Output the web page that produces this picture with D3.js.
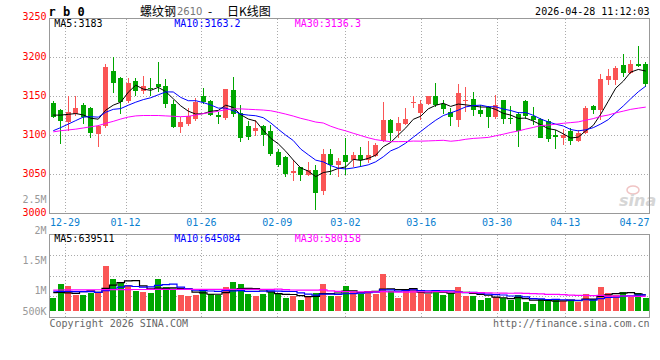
<!DOCTYPE html>
<html>
<head>
<meta charset="utf-8">
<script src="https://cdn.jsdelivr.net/npm/d3@7"></script>
<style>
  html, body { margin: 0; padding: 0; background: #fff; }
  svg { display: block; }
  .mono { font-family: "DejaVu Sans Mono", monospace; font-size: 10px; }
</style>
</head>
<body>
<div id="chart"></div>
<script>
// trading days shown (MM-DD)
const dates = [
  "12-25","12-26","12-29","12-30","12-31","01-05","01-06","01-07","01-08","01-09",
  "01-12","01-13","01-14","01-15","01-16","01-19","01-20","01-21","01-22","01-23",
  "01-26","01-27","01-28","01-29","01-30","02-02","02-03","02-04","02-05","02-06",
  "02-09","02-10","02-11","02-12","02-13","02-24","02-25","02-26","02-27","03-02",
  "03-03","03-04","03-05","03-06","03-09","03-10","03-11","03-12","03-13","03-16",
  "03-17","03-18","03-19","03-20","03-23","03-24","03-25","03-26","03-27","03-30",
  "03-31","04-01","04-02","04-03","04-07","04-08","04-09","04-10","04-13","04-14",
  "04-15","04-16","04-17","04-20","04-21","04-22","04-23","04-24","04-27","04-28"
];

const open = [
  3142,3132,3117.5,3128,3139,3135,3102,3112,3182,3174,
  3144,3170,3157,3161,3166,3163,3140,3111,3115,3120.5,
  3150,3144,3126,3122,3158,3129,3112,3105,3112,3106,
  3079,3072,3052,3059,3049,3056,3028,3076,3062,3075,
  3068,3075,3068,3073.5,3093,3120,3106,3115,3142,3129,
  3140,3150,3140,3130,3120,3144,3147,3132,3136,3123,
  3145,3122,3128,3144,3125,3120.5,3119,3101,3096,3105,
  3093,3103,3138,3132.5,3171,3171,3190,3179.5,3191.5,3191.5
];
const high = [
  3144,3134,3151,3151,3142,3137,3113,3192,3201,3175,
  3173,3174,3176,3173,3194,3172,3145,3123,3135,3148,
  3161,3145,3130,3160,3175,3139,3119,3120,3113,3113,
  3083,3073,3069,3060,3066,3062,3083,3082,3071,3097,
  3079,3085,3093,3090,3143,3121,3124,3135.5,3150,3146,
  3150,3167.5,3145,3135,3166,3161.5,3156,3139,3138,3152,
  3146,3138,3130,3146,3136,3122,3120.5,3107,3108,3109,
  3107,3138,3139,3179,3185,3189,3204,3197,3214.5,3194
];
const low = [
  3122,3089,3105,3125,3115,3097,3085,3110,3155,3128,
  3142,3150,3153,3150,3156,3135,3110,3103,3112,3119,
  3140,3125,3115,3120,3124,3092,3094,3099,3086,3073,
  3059,3046,3042,3041,3048,3004,3023.5,3049,3047,3049,
  3060,3059,3064,3072,3091,3093,3096,3113,3135,3120,
  3139,3137,3128,3112,3111,3130,3125,3123,3110,3120.5,
  3114.5,3114.5,3085.5,3120.5,3113,3096,3092,3083,3088,3088,
  3092,3102,3128,3120,3164.5,3164.5,3175,3179,3188,3161.5
];
const close = [
  3124,3118,3130,3135,3124,3103,3112,3188,3167,3143,
  3167,3157,3163,3159,3162,3140,3111,3117.5,3125,3143,
  3143,3126,3123,3159,3128,3097,3098,3110,3100,3076,
  3062,3050,3054,3049,3056,3026.5,3076,3062,3067.5,3066,
  3075,3069,3075,3088,3120,3103,3116,3121,3143,3140,
  3150,3139,3134,3123,3155,3145,3132,3127,3123,3139,
  3120.5,3120.5,3106,3125,3120,3097,3095,3098,3100,3093,
  3103,3135,3133,3172,3176,3187,3179.5,3191.5,3189,3166
];

const ma5 = [
  3126,3126,3127,3128,3126.2,3122,3120.8,3132.4,3138.8,3142.6,
  3155.4,3164.4,3159.4,3157.8,3161.6,3156.2,3147,3137.9,3131.1,3127.3,
  3127.9,3130.9,3132,3138.8,3135.8,3126.6,3121,3118.4,3106.6,3096.2,
  3089.2,3079.6,3068.4,3058.2,3054.2,3047.1,3052.3,3053.9,3057.6,3059.6,
  3069.3,3067.9,3070.5,3074.6,3085.4,3091,3100.4,3109.6,3120.6,3124.6,
  3134,3138.6,3141.2,3137.2,3140.2,3139.2,3137.8,3136.4,3136.4,3133.2,
  3128.3,3126,3121.8,3122.2,3118.4,3113.7,3108.6,3107,3102,3096.6,
  3097.8,3105.8,3112.8,3127.2,3143.8,3160.6,3169.5,3181.2,3184.6,3182.6
];
const ma10 = [
  3106,3110,3114.5,3119,3123.5,3124,3123.4,3129.7,3133.4,3134.4,
  3138.7,3142.6,3145.9,3148.3,3152.1,3155.8,3155.7,3148.7,3144.5,3144.5,
  3142.1,3139,3135,3135,3131.6,3127.3,3126,3125.2,3122.7,3116,
  3107.9,3100.3,3093.4,3082.4,3075.2,3068.2,3066,3061.2,3057.9,3056.9,
  3058.2,3060.1,3062.2,3066.1,3072.5,3080.2,3084.2,3090.1,3097.6,3105,
  3112.5,3119.5,3125.4,3128.9,3132.4,3136.6,3138.2,3138.8,3136.8,3136.7,
  3133.8,3131.9,3129.1,3129.3,3125.8,3121,3117.3,3114.4,3112.1,3107.5,
  3105.8,3107.2,3109.9,3114.6,3120.2,3129.2,3137.7,3147,3155.9,3163.2
];
const ma30 = [
  3104.5,3106,3107,3108,3109.5,3111,3112.5,3115.5,3118,3121,
  3123.5,3125,3125.5,3125.5,3125.5,3125,3124.5,3124,3124.5,3126,
  3128,3129.5,3131,3133,3134,3134,3133.5,3133,3132.5,3131.6,
  3129.6,3127.3,3124.8,3121.9,3119.6,3117.1,3115.9,3111.7,3108.4,3105.8,
  3102.7,3099.8,3096.9,3094.5,3093.1,3091.9,3092,3092.1,3092.7,3092.6,
  3092.9,3093.3,3093.7,3092.5,3093.4,3095,3096.1,3096.7,3097.4,3099.5,
  3101.5,3103.8,3105.6,3108.1,3110.2,3112.6,3113.2,3114.4,3115.5,3116.4,
  3117.3,3119.5,3121.5,3124.3,3126.1,3128.9,3131.1,3133.4,3134.9,3136.3
];

// volume, thousand lots
const volume = [
  526,1080,999,635,635,702,743,1823,1283,1148,
  1040,797,756,715,1283,972,932,635,608,635,
  797,662,635,959,1161,1080,675,608,689,770,
  715,526,594,446,594,730,1080,608,580,999,
  770,689,797,662,1486,797,526,797,878,743,
  662,837,635,702,959,608,608,432,526,567,
  500,419,635,337,270,472,391,472,391,432,
  365,675,472,959,730,635,756,567,715,526
];
const volMa5 = [
  732,741,722,703,775,810,743,907,1037,1140,
  1207,1218,1005,891,919,904,932,907,885,756,
  721,667,667,737,843,900,902,897,843,765,
  692,661,658,610,575,578,689,692,718,800,
  808,730,767,784,881,886,854,854,897,749,
  721,784,751,715,759,748,702,662,627,548,
  526,489,529,491,432,427,421,389,399,432,
  410,467,467,580,640,694,711,730,680,640
];
const volMa10 = [
  790,785,780,775,770,771,742,815,870,958,
  1009,981,956,964,1030,1056,1075,956,888,838,
  813,800,787,811,800,811,785,782,790,804,
  796,782,778,727,670,635,675,675,664,688,
  693,710,730,751,841,847,792,811,841,815,
  804,819,803,806,754,735,743,707,671,654,
  637,596,596,559,490,477,455,459,445,432,
  419,444,428,490,536,552,589,599,630,645
];
const volMa30 = [
  838,840,842,844,846,848,850,852,854,856,
  858,860,861,862,863,864,865,865,865,865,
  866,866,866,866,866,866,866,866,866,866,
  872,854,840,834,833,834,845,804,781,776,
  767,763,765,763,770,764,750,756,765,768,
  764,770,770,761,754,739,737,731,725,718,
  711,708,709,705,695,686,663,659,652,633,
  620,619,609,618,593,588,596,588,582,580
];

const priceTicks = [3250, 3200, 3150, 3100, 3050, 3000];
const dateTicks = ["12-29","01-12","01-26","02-09","03-02","03-16","03-30","04-13","04-27"];
const volTicks = [2500, 2000, 1500, 1000, 500];
const volTickLabels = ["2.5M", "2M", "1.5M", "1M", "500K"];
const maLabels = ["MA5:3183", "MA10:3163.2", "MA30:3136.3"];
const volMaLabels = ["MA5:639511", "MA10:645084", "MA30:580158"];
const maColors = ["#000000", "#0000ff", "#ff00ff"];

const W = 660, H = 360;
const plotLeft = 49.5, plotRight = 649.5;
const plotTop = 18.5, priceBottom = 213.5;
const volTop = 234.5, volBottom = 317.5, volBase = 310.7;
const upColor = "#fa5555", downColor = "#00a600";
const gridColor = "#aaaaaa", borderColor = "#999999";

const svg = d3.select("#chart").append("svg")
    .attr("width", W)
    .attr("height", H);

const x = d3.scaleBand().domain(dates).range([plotLeft, plotRight]).padding(0);
const cx = d => x(d) + x.bandwidth() / 2;
const y = d3.scaleLinear().domain([3000, 3250]).range([213.3, 18.5]);
const yVol = d3.scaleLinear().domain([0, 1000]).range([volBase, volBase - 24.65]);
// sina spaces its date grid slightly wider than the candles
const tickX = d3.scaleLinear().domain([0, 80]).range([49.8, 656.2]);
const volLabelY = d3.scaleLinear().domain([1000, 2000]).range([290.7, 230]);

const rows = dates.map((d, i) => ({
  date: d, o: open[i], h: high[i], l: low[i], c: close[i], v: volume[i]
}));
const colorOf = r => r.c >= r.o ? upColor : downColor;

// grid
const grid = svg.append("g")
    .attr("stroke", gridColor)
    .attr("stroke-dasharray", "1,2")
    .attr("shape-rendering", "crispEdges");

grid.selectAll(".hgrid")
    .data(priceTicks.filter(v => v > 3000 && v < 3250))
    .enter().append("line")
    .attr("x1", plotLeft).attr("x2", plotRight)
    .attr("y1", d => Math.round(y(d)) + 0.5)
    .attr("y2", d => Math.round(y(d)) + 0.5);

grid.selectAll(".vhgrid")
    .data([1, 2, 3])
    .enter().append("line")
    .attr("x1", plotLeft).attr("x2", plotRight)
    .attr("y1", k => Math.round(volTop + k * 20.5) + 0.5)
    .attr("y2", k => Math.round(volTop + k * 20.5) + 0.5);

const tickData = dateTicks.map(d => {
  const gx = tickX(dates.indexOf(d));
  const lx = Math.min(gx, plotRight - 15);
  return { label: d, gx: gx, lx: lx, clamped: lx < gx };
});

[[plotTop, priceBottom], [volTop, volBottom]].forEach(([y1, y2]) => {
  grid.selectAll(null)
      .data(tickData.filter(t => !t.clamped))
      .enter().append("line")
      .attr("x1", t => Math.round(t.gx) + 0.5)
      .attr("x2", t => Math.round(t.gx) + 0.5)
      .attr("y1", y1).attr("y2", y2);
});

// sina watermark
const wm = svg.append("g");
wm.append("ellipse")
    .attr("cx", 633).attr("cy", 190).attr("rx", 6).attr("ry", 4)
    .attr("fill", "none").attr("stroke", "#f0c4c4").attr("stroke-width", 1.5);
wm.append("text")
    .attr("x", 619).attr("y", 206)
    .attr("font-family", "DejaVu Sans").attr("font-size", 16)
    .attr("font-weight", "bold").attr("font-style", "italic")
    .attr("fill", "#d6d6d6")
    .text("sina");

// candles
const candles = svg.append("g").attr("shape-rendering", "crispEdges");
candles.selectAll(".wick")
    .data(rows)
    .enter().append("rect")
    .attr("x", r => Math.round(cx(r.date) - 2.5) + 2)
    .attr("width", 1)
    .attr("y", r => Math.round(y(r.h)))
    .attr("height", r => Math.max(1, Math.round(y(r.l)) - Math.round(y(r.h))))
    .attr("fill", colorOf);

candles.selectAll(".body")
    .data(rows)
    .enter().append("rect")
    .attr("x", r => Math.round(cx(r.date) - 2.5))
    .attr("width", 5)
    .attr("y", r => Math.round(y(Math.max(r.o, r.c))))
    .attr("height", r => Math.max(1, Math.round(y(Math.min(r.o, r.c))) - Math.round(y(Math.max(r.o, r.c)))))
    .attr("fill", colorOf);

// moving averages
const priceLine = d3.line().x((v, i) => cx(dates[i])).y(v => y(v));
[ma5, ma10, ma30].forEach((s, k) => {
  svg.append("path")
      .attr("d", priceLine(s))
      .attr("fill", "none")
      .attr("stroke", maColors[k])
      .attr("stroke-width", 1);
});

// volume bars
svg.append("g").attr("shape-rendering", "crispEdges")
    .selectAll("rect")
    .data(rows)
    .enter().append("rect")
    .attr("x", r => Math.round(cx(r.date) - 3))
    .attr("width", 6)
    .attr("y", r => Math.round(yVol(r.v)))
    .attr("height", r => Math.round(volBase) - Math.round(yVol(r.v)))
    .attr("fill", colorOf);

const volLine = d3.line().curve(d3.curveStep).x((v, i) => cx(dates[i])).y(v => yVol(v));
[volMa5, volMa10, volMa30].forEach((s, k) => {
  svg.append("path")
      .attr("d", volLine(s))
      .attr("fill", "none")
      .attr("stroke", maColors[k])
      .attr("stroke-width", 1.2);
});

// panel borders
[[plotTop, priceBottom], [volTop, volBottom]].forEach(([y1, y2]) => {
  svg.append("rect")
      .attr("x", plotLeft).attr("y", y1)
      .attr("width", plotRight - plotLeft).attr("height", y2 - y1)
      .attr("fill", "none")
      .attr("stroke", borderColor)
      .attr("shape-rendering", "crispEdges");
});

// price axis labels
svg.selectAll(".ptick")
    .data(priceTicks)
    .enter().append("text")
    .attr("class", "mono")
    .attr("x", 46.5)
    .attr("y", d => y(d) + (d === 3250 ? 1.5 : 2.7))
    .attr("text-anchor", "end")
    .attr("fill", "#ff0000")
    .text(d => d);

// volume axis labels
svg.selectAll(".vtick")
    .data(volTicks)
    .enter().append("text")
    .attr("class", "mono")
    .attr("x", 46.5)
    .attr("y", d => Math.min(volLabelY(d), 311.3) + 3.6)
    .attr("text-anchor", "end")
    .attr("fill", "#999999")
    .text((d, i) => volTickLabels[i]);

// date labels
svg.selectAll(".dtick")
    .data(tickData)
    .enter().append("text")
    .attr("class", "mono")
    .attr("x", t => t.lx)
    .attr("y", 225.7)
    .attr("text-anchor", "middle")
    .attr("fill", "#0a80d0")
    .text(t => t.label);

// MA legends
const legendX = [54.3, 174.3, 294.7];
svg.selectAll(".malab")
    .data(maLabels)
    .enter().append("text")
    .attr("class", "mono")
    .attr("x", (d, i) => legendX[i])
    .attr("y", 27.3)
    .attr("fill", (d, i) => maColors[i])
    .text(d => d);

svg.selectAll(".vmalab")
    .data(volMaLabels)
    .enter().append("text")
    .attr("class", "mono")
    .attr("x", (d, i) => legendX[i])
    .attr("y", 242.3)
    .attr("fill", (d, i) => maColors[i])
    .text(d => d);

// header
svg.append("text")
    .attr("x", 48.5).attr("y", 16)
    .attr("font-family", "DejaVu Sans Mono")
    .attr("font-size", 12).attr("font-weight", "bold")
    .attr("fill", "#000")
    .text("r b 0");

const title = svg.append("text")
    .attr("y", 15.5)
    .attr("font-family", "'Noto Sans CJK SC', sans-serif")
    .attr("font-size", 12)
    .attr("fill", "#000");
title.append("tspan").attr("x", 140).text("螺纹钢");
title.append("tspan").attr("x", 177).attr("y", 14.5)
    .attr("font-family", "DejaVu Sans").attr("font-size", 10)
    .attr("fill", "#777").text("2610");
title.append("tspan").attr("x", 208).attr("y", 15.5).text("-");
title.append("tspan").attr("x", 227).text("日K线图");

svg.append("text")
    .attr("class", "mono")
    .attr("x", 649.5).attr("y", 15.3)
    .attr("text-anchor", "end")
    .attr("fill", "#000")
    .text("2026-04-28 11:12:03");

// footer
svg.append("text")
    .attr("class", "mono")
    .attr("x", 49.5).attr("y", 327.3)
    .attr("fill", "#666")
    .text("Copyright 2026 SINA.COM");

svg.append("text")
    .attr("class", "mono")
    .attr("x", 649.5).attr("y", 327.3)
    .attr("text-anchor", "end")
    .attr("fill", "#666")
    .text("http://finance.sina.com.cn");
</script>
</body>
</html>
